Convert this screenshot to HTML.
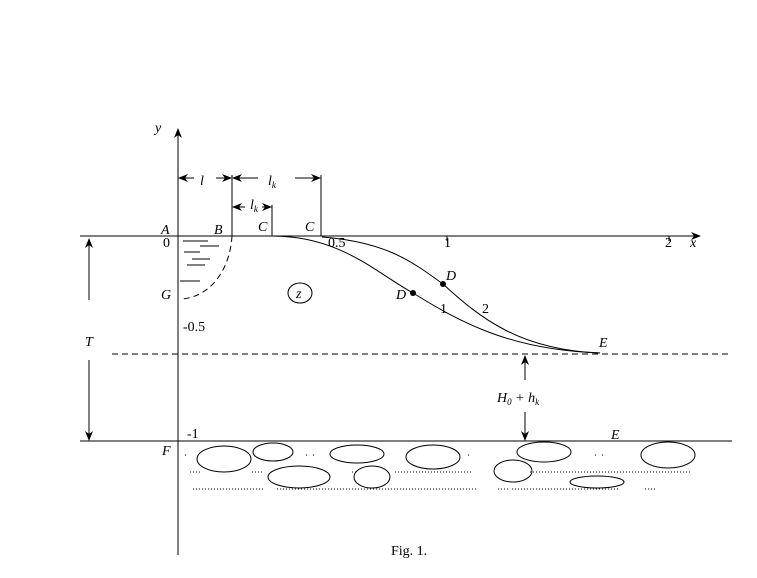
<!DOCTYPE html>
<html><head><meta charset="utf-8"><style>
html,body{margin:0;padding:0;background:#fff;}
svg{display:block;}
text{font-family:"Liberation Serif",serif;font-size:14px;fill:#000;}
.i{font-style:italic;}
</style></head><body>
<svg width="757" height="578" viewBox="0 0 757 578" xmlns="http://www.w3.org/2000/svg">
<defs>
<marker id="a" markerWidth="10" markerHeight="8" refX="9" refY="4" orient="auto" markerUnits="userSpaceOnUse">
<path d="M0,0 L10,4 L0,8 L3,4 Z" fill="#000"/></marker>
</defs>
<g stroke="#000" stroke-width="1" fill="none">
<line x1="178" y1="555" x2="178" y2="129" marker-end="url(#a)"/>
<line x1="80" y1="236" x2="700" y2="236" marker-end="url(#a)"/>
<line x1="112" y1="354" x2="730" y2="354" stroke-dasharray="6,4"/>
<line x1="80" y1="441" x2="732" y2="441"/>
<line x1="89" y1="300" x2="89" y2="239" marker-end="url(#a)"/>
<line x1="89" y1="360" x2="89" y2="440" marker-end="url(#a)"/>
<line x1="232" y1="175" x2="232" y2="236"/>
<line x1="321" y1="175" x2="321" y2="236"/>
<line x1="272" y1="205" x2="272" y2="236"/>
<line x1="194" y1="178" x2="179" y2="178" marker-end="url(#a)"/>
<line x1="216" y1="178" x2="231" y2="178" marker-end="url(#a)"/>
<line x1="258" y1="178" x2="233" y2="178" marker-end="url(#a)"/>
<line x1="295" y1="178" x2="320" y2="178" marker-end="url(#a)"/>
<line x1="245" y1="207" x2="233" y2="207" marker-end="url(#a)"/>
<line x1="262" y1="207" x2="271" y2="207" marker-end="url(#a)"/>
<line x1="183" y1="241" x2="208" y2="241"/>
<line x1="200" y1="246" x2="219" y2="246"/>
<line x1="184" y1="252" x2="200" y2="252"/>
<line x1="192" y1="259" x2="210" y2="259"/>
<line x1="187" y1="265" x2="205" y2="265"/>
<line x1="180" y1="281" x2="200" y2="281"/>
<path d="M232,236 C230,270 210,298 180,299" stroke-dasharray="6,4"/>
<ellipse cx="300" cy="293" rx="12" ry="10"/>
<path d="M272,236 C340,236 375,272 413,293 C460,322 510,350 600,353"/>
<path d="M322,237 C385,242 410,260 443,284 C480,318 520,350 600,353"/>
<line x1="525" y1="380" x2="525" y2="356" marker-end="url(#a)"/>
<line x1="525" y1="412" x2="525" y2="440" marker-end="url(#a)"/>
<ellipse cx="224" cy="459" rx="27" ry="13"/>
<ellipse cx="273" cy="452" rx="20" ry="9"/>
<ellipse cx="299" cy="477" rx="31" ry="11"/>
<ellipse cx="357" cy="454" rx="27" ry="9"/>
<ellipse cx="372" cy="477" rx="18" ry="11"/>
<ellipse cx="433" cy="457" rx="27" ry="12"/>
<ellipse cx="513" cy="471" rx="19" ry="11"/>
<ellipse cx="544" cy="452" rx="27" ry="10"/>
<ellipse cx="597" cy="482" rx="27" ry="6"/>
<ellipse cx="668" cy="455" rx="27" ry="13"/>
<g stroke-dasharray="1,2">
<line x1="190" y1="472" x2="200" y2="472"/>
<line x1="252" y1="472" x2="262" y2="472"/>
<line x1="352" y1="472" x2="358" y2="472"/>
<line x1="395" y1="472" x2="472" y2="472"/>
<line x1="530" y1="472" x2="690" y2="472"/>
<line x1="193" y1="489" x2="265" y2="489"/>
<line x1="277" y1="489" x2="478" y2="489"/>
<line x1="498" y1="489" x2="508" y2="489"/>
<line x1="512" y1="489" x2="620" y2="489"/>
<line x1="645" y1="489" x2="657" y2="489"/>
</g>
<g stroke-dasharray="1,6">
<line x1="185" y1="455" x2="190" y2="455"/>
<line x1="306" y1="455" x2="320" y2="455"/>
<line x1="468" y1="455" x2="470" y2="455"/>
<line x1="595" y1="455" x2="605" y2="455"/>
</g>
</g>
<circle cx="413" cy="293" r="3" fill="#000"/>
<circle cx="443" cy="284" r="3" fill="#000"/>
<line x1="447" y1="236" x2="447" y2="241" stroke="#000"/>
<line x1="669" y1="236" x2="669" y2="241" stroke="#000"/>
<text x="155" y="132" class="i">y</text>
<text x="200" y="185" class="i">l</text>
<text x="268" y="185" class="i">l<tspan font-size="9" dy="3">k</tspan></text>
<text x="250" y="209" class="i">l<tspan font-size="9" dy="3">k</tspan></text>
<text x="161" y="234" class="i">A</text>
<text x="214" y="234" class="i">B</text>
<text x="258" y="231" class="i">C</text>
<text x="305" y="231" class="i">C</text>
<text x="163" y="247">0</text>
<text x="328" y="247">0.5</text>
<text x="444" y="247">1</text>
<text x="665" y="247">2</text>
<text x="690" y="247" class="i">x</text>
<text x="161" y="299" class="i">G</text>
<text x="296" y="298" class="i" font-size="11">z</text>
<text x="183" y="331">-0.5</text>
<text x="446" y="280" class="i">D</text>
<text x="396" y="299" class="i">D</text>
<text x="440" y="313">1</text>
<text x="482" y="313">2</text>
<text x="599" y="347" class="i">E</text>
<text x="85" y="346" class="i">T</text>
<text x="497" y="402" class="i">H<tspan font-size="9" dy="3">0</tspan><tspan dy="-3"> + h</tspan><tspan font-size="9" dy="3">k</tspan></text>
<text x="187" y="438">-1</text>
<text x="611" y="439" class="i">E</text>
<text x="162" y="455" class="i">F</text>
<text x="391" y="555" font-size="12">Fig. 1.</text>
</svg>
</body></html>
